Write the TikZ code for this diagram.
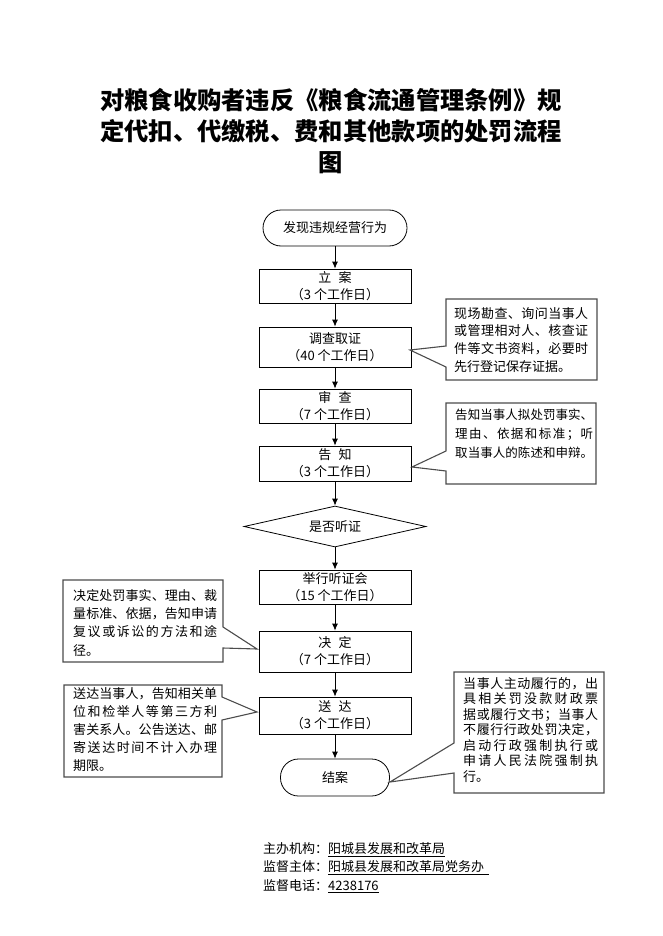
\documentclass[tikz,border=0pt]{standalone}
\usepackage{fontspec}
\setmainfont{Noto Sans CJK SC}
\usetikzlibrary{shapes.geometric,arrows.meta,calc}
\makeatletter
\def\sp@end{\sp@end}
\def\spreadtxt#1{\sp@first#1\sp@end}
\def\sp@first#1{#1\sp@loop}
\def\sp@loop#1{\ifx\sp@end#1\else\hfil#1\expandafter\sp@loop\fi}
\makeatother
\newcommand\jl[2]{\makebox[#1][s]{\spreadtxt{#2}}}
\newcommand\gp{\hspace{0.55em}}
\tikzset{
  stepbox/.style={draw, line width=0.8pt, minimum width=152pt, align=center,
    font=\fontsize{13}{17}\selectfont, inner sep=0pt},
  termbox/.style={draw, line width=0.8pt, align=center, inner sep=0pt,
    font=\fontsize{13}{17}\selectfont},
  arr/.style={-{Latex[length=7pt,width=6pt]}, line width=0.8pt},
  callout/.style={draw=black!70, line width=1.1pt, fill=white, line join=miter},
  ctext/.style={inner sep=0pt, align=left, anchor=north west},
  foot/.style={inner sep=0pt, anchor=west, font=\fontsize{13}{17}\selectfont},
}
\begin{document}
\begin{tikzpicture}[x=1pt,y=-1pt]
\useasboundingbox (0,0) rectangle (662,936);
\fill[white] (0,0) rectangle (662,936);

% title
\node[font=\bfseries\fontsize{24.3}{31}\selectfont, align=center, inner sep=0pt] (title) at (331,131)
  {对粮食收购者违反《粮食流通管理条例》规\\定代扣、代缴税、费和其他款项的处罚流程\\图};

% flow nodes
\node[termbox, rounded corners=18pt, minimum width=144pt, minimum height=36pt] (s) at (335,228) {发现违规经营行为};
\node[stepbox, minimum height=34pt] (b1) at (335,286) {立\gp 案\\（3 个工作日）};
\node[stepbox, minimum height=40pt] (b2) at (335,347) {调查取证\\（40 个工作日）};
\node[stepbox, minimum height=34pt] (b3) at (335,406) {审\gp 查\\（7 个工作日）};
\node[stepbox, minimum height=35pt] (b4) at (335,463.5) {告\gp 知\\（3 个工作日）};
\node[draw, line width=0.8pt, diamond, aspect=4.4, minimum width=182pt, minimum height=41pt, inner sep=0pt,
  font=\fontsize{13}{17}\selectfont] (d) at (335,526.5) {是否听证};
\node[stepbox, minimum height=34pt] (b5) at (335,587) {举行听证会\\（15 个工作日）};
\node[stepbox, minimum height=41pt] (b6) at (335,651.5) {决\gp 定\\（7 个工作日）};
\node[stepbox, minimum height=37pt] (b7) at (335,715.5) {送\gp 达\\（3 个工作日）};
\node[termbox, rounded corners=18pt, minimum width=109pt, minimum height=37pt] (e) at (335,777.5) {结案};

\draw[arr] (s) -- (b1);
\draw[arr] (b1) -- (b2);
\draw[arr] (b2) -- (b3);
\draw[arr] (b3) -- (b4);
\draw[arr] (b4) -- (d);
\draw[arr] (d) -- (b5);
\draw[arr] (b5) -- (b6);
\draw[arr] (b6) -- (b7);
\draw[arr] (b7) -- (e);

% callouts
\draw[callout] (446,299) -- (597,299) -- (597,380) -- (446,380) -- (446,367) -- (410,350) -- (446,346) -- cycle;
\node[ctext, font=\fontsize{13}{17.7}\selectfont] (t1) at (454,307)
  {\jl{134pt}{现场勘查、询问当事人}\\\jl{134pt}{或管理相对人、核查证}\\\jl{134pt}{件等文书资料，必要时}\\先行登记保存证据。};

\draw[callout] (446,403) -- (596,403) -- (596,484) -- (446,484) -- (446,471) -- (412,467) -- (446,451) -- cycle;
\node[ctext, font=\fontsize{12.5}{19}\selectfont] (t2) at (455,409)
  {\jl{138pt}{告知当事人拟处罚事实、}\\\jl{138pt}{理由、依据和标准；听}\\\jl{138pt}{取当事人的陈述和申辩。}};

\draw[callout] (63,580) -- (223,580) -- (223,627) -- (257,649) -- (223,648) -- (223,662) -- (63,662) -- cycle;
\node[ctext, font=\fontsize{13}{18.3}\selectfont] (t3) at (73,589)
  {\jl{144pt}{决定处罚事实、理由、裁}\\\jl{144pt}{量标准、依据，告知申请}\\\jl{144pt}{复议或诉讼的方法和途}\\径。};

\draw[callout] (64,685) -- (222,685) -- (222,697) -- (257,712) -- (222,720) -- (222,777) -- (64,777) -- cycle;
\node[ctext, font=\fontsize{13}{18}\selectfont] (t4) at (73,687)
  {\jl{144pt}{送达当事人，告知相关单}\\\jl{144pt}{位和检举人等第三方利}\\\jl{144pt}{害关系人。公告送达、邮}\\\jl{144pt}{寄送达时间不计入办理}\\期限。};

\draw[callout] (454,672) -- (604,672) -- (604,793) -- (454,793) -- (454,773) -- (390,782) -- (454,743) -- cycle;
\node[ctext, font=\fontsize{13}{15.5}\selectfont] (t5) at (463,677)
  {\jl{135pt}{当事人主动履行的，出}\\\jl{135pt}{具相关罚没款财政票}\\\jl{135pt}{据或履行文书；当事人}\\\jl{135pt}{不履行行政处罚决定，}\\\jl{135pt}{启动行政强制执行或}\\\jl{135pt}{申请人民法院强制执}\\行。};

% footer
\node[foot] (f1) at (263,850) {主办机构：\underline{阳城县发展和改革局}};
\node[foot] (f2) at (263,868) {监督主体：\underline{阳城县发展和改革局党务办\hspace{5pt}}};
\node[foot] (f3) at (263,886) {监督电话：\underline{4238176}};
\end{tikzpicture}
\end{document}
